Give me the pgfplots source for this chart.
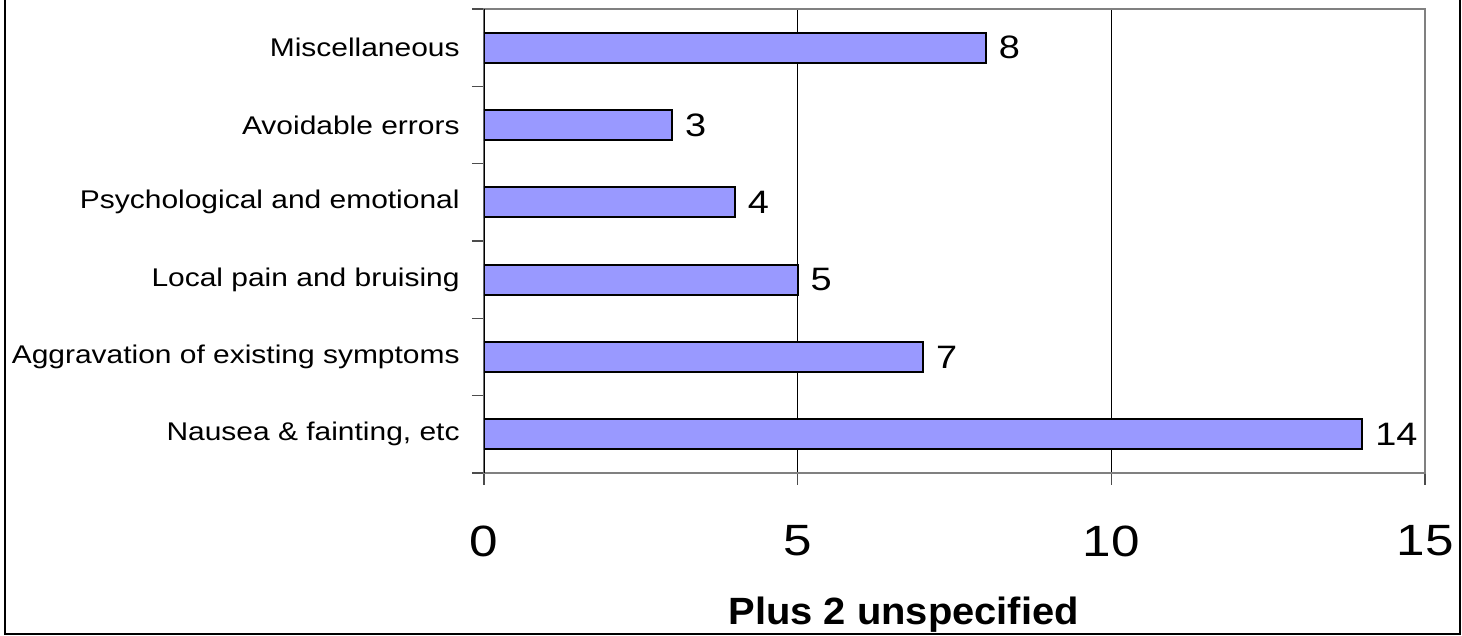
\documentclass[border=0pt]{standalone}
\usepackage{pgfplots}
\pgfplotsset{compat=1.18}
\usepackage{fontspec}
\setmainfont[FakeStretch=1.17]{Liberation Sans}
\newfontfamily\labelfont[FakeStretch=1.05]{Liberation Sans}
\definecolor{barfill}{HTML}{9999FF}
\begin{document}
\begin{tikzpicture}
\useasboundingbox (0,0) rectangle (731pt,318pt);
\draw[line width=1pt] (2.5pt,330pt) -- (2.5pt,1pt) -- (730pt,1pt) -- (730pt,330pt);
\begin{axis}[
  at={(242pt,81.5pt)}, anchor=south west,
  scale only axis, width=470.5pt, height=232pt,
  xbar, bar width=15pt,
  xmin=0, xmax=15, ymin=-0.5, ymax=5.5,
  xtick={0,5,10,15},
  ytick={-0.5,0.5,1.5,2.5,3.5,4.5,5.5},
  y tick label as interval,
  yticklabels={{Nausea \& fainting, etc},{Aggravation of existing symptoms},{Local pain and bruising},{Psychological and emotional},{Avoidable errors},{Miscellaneous}},
  tick pos=left,
  tick align=outside, major tick length=6pt,
  xmajorgrids, grid style={black, line width=0.6pt},
  axis line style={gray, line width=1pt},
  tick style={black!70, line width=0.8pt},
  /pgf/number format/assume math mode=true,
  nodes near coords,
  nodes near coords style={anchor=west, inner sep=0pt, xshift=6pt, font=\fontsize{16.2}{19}\selectfont, black},
  xticklabel style={font=\fontsize{21.9}{26}\selectfont, anchor=center, yshift=-28pt},
  yticklabel style={font=\fontsize{12.8}{15}\selectfont, anchor=east, inner sep=0pt, xshift=-6pt},
  xlabel={\labelfont\bfseries Plus 2 unspecified},
  xlabel style={at={(axis description cs:0.446,0)}, anchor=base, yshift=-76pt, font=\fontsize{19}{23}\selectfont},
]
\addplot[fill=barfill, draw=black, line width=1pt] coordinates {(14,0) (7,1) (5,2) (4,3) (3,4) (8,5)};
\draw[black, line width=1pt] (rel axis cs:0,0) -- (rel axis cs:0,1);
\end{axis}
\end{tikzpicture}
\end{document}
